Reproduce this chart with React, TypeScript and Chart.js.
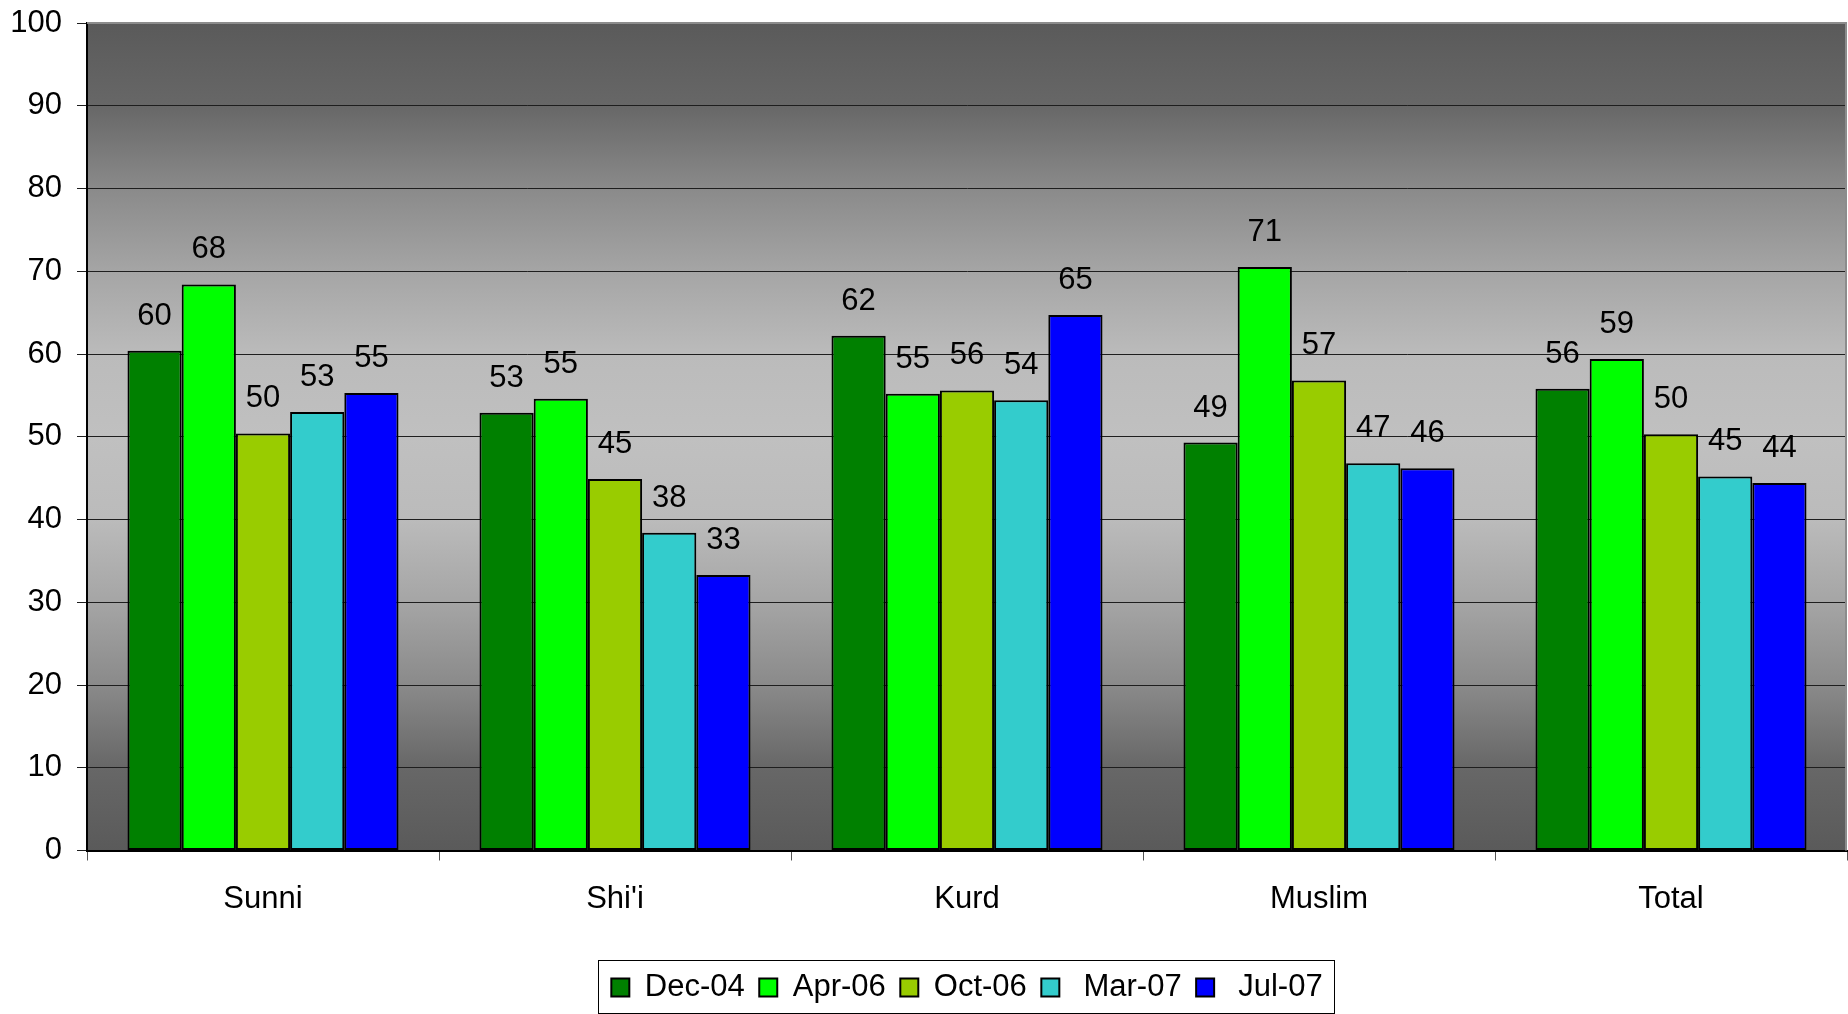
import React, { useEffect, useRef } from 'react';
import { Chart, registerables } from 'chart.js';

Chart.register(...registerables);

const categories = ['Sunni', "Shi'i", 'Kurd', 'Muslim', 'Total'];
const seriesLabels = ['Dec-04', 'Apr-06', 'Oct-06', ' Mar-07', ' Jul-07'];
const dec04 = [60.4, 52.9, 62.2, 49.3, 55.8];
const apr06 = [68.4, 54.6, 55.2, 70.5, 59.4];
const oct06 = [50.4, 44.9, 55.6, 56.8, 50.3];
const mar07 = [53.0, 38.4, 54.4, 46.8, 45.2];
const jul07 = [55.3, 33.3, 64.7, 46.2, 44.4];
const seriesColors = ['#008000', '#00FF00', '#99CC00', '#33CCCC', '#0000FF'];
const yMin = 0;
const yMax = 100;
const yStep = 10;

const FONT = "'Liberation Sans', Arial, Helvetica, sans-serif";
const FONT_SIZE = 31;

const backgroundPlugin = {
  id: 'plotBackground',
  beforeDraw(chart: any) {
    const { ctx, chartArea } = chart;
    if (!chartArea) return;
    const { left, top, right, bottom } = chartArea;
    ctx.save();
    ctx.fillStyle = '#ffffff';
    ctx.fillRect(0, 0, chart.width, chart.height);
    const g = ctx.createLinearGradient(0, top, 0, bottom);
    const stops: [number, string][] = [
      [0, '#5a5a5a'],
      [0.1, '#676767'],
      [0.2, '#8a8a8a'],
      [0.3, '#a5a5a5'],
      [0.4, '#bbbbbb'],
      [0.5, '#c0c0c0'],
      [0.6, '#bbbbbb'],
      [0.7, '#a5a5a5'],
      [0.8, '#8a8a8a'],
      [0.9, '#676767'],
      [1, '#5a5a5a'],
    ];
    stops.forEach(([o, c]) => g.addColorStop(o, c));
    ctx.fillStyle = g;
    ctx.fillRect(left, top, right - left, bottom - top);
    ctx.restore();
  },
  beforeDatasetsDraw(chart: any) {
    const { ctx, chartArea } = chart;
    const { left, top, right, bottom } = chartArea;
    ctx.save();
    ctx.strokeStyle = '#8c8c8c';
    ctx.lineWidth = 2;
    ctx.beginPath();
    ctx.moveTo(left, top);
    ctx.lineTo(right - 1, top);
    ctx.lineTo(right - 1, bottom);
    ctx.stroke();
    ctx.restore();
  },
};

const dataLabelPlugin = {
  id: 'dataLabels',
  afterDatasetsDraw(chart: any) {
    const ctx = chart.ctx;
    ctx.save();
    ctx.font = `${FONT_SIZE}px ${FONT}`;
    ctx.fillStyle = '#000000';
    ctx.textAlign = 'center';
    ctx.textBaseline = 'alphabetic';
    chart.data.datasets.forEach((ds: any, i: number) => {
      const meta = chart.getDatasetMeta(i);
      meta.data.forEach((bar: any, j: number) => {
        const v = ds.data[j] as number;
        ctx.fillText(String(Math.round(v)), bar.x, bar.y - 26);
      });
    });
    ctx.restore();
  },
};

const legendBorderPlugin = {
  id: 'legendBorder',
  afterDraw(chart: any) {
    const legend = chart.legend;
    if (!legend || !legend.legendHitBoxes || !legend.legendHitBoxes.length) return;
    const boxes = legend.legendHitBoxes;
    let minX = Infinity;
    let maxX = -Infinity;
    boxes.forEach((b: any) => {
      minX = Math.min(minX, b.left);
      maxX = Math.max(maxX, b.left + b.width);
    });
    const cy = boxes[0].top + boxes[0].height / 2;
    const ctx = chart.ctx;
    ctx.save();
    ctx.strokeStyle = '#000000';
    ctx.lineWidth = 1;
    ctx.strokeRect(Math.round(minX - 13) + 0.5, Math.round(cy - 28) + 0.5, Math.round(maxX - minX + 25), 53);
    ctx.restore();
  },
};

export default function App() {
  const canvasRef = useRef<HTMLCanvasElement | null>(null);

  useEffect(() => {
    document.body.style.margin = '0';
    document.body.style.overflow = 'hidden';
    const canvas = canvasRef.current;
    if (!canvas) return;
    const seriesData = [dec04, apr06, oct06, mar07, jul07];
    const chart = new Chart(canvas, {
      type: 'bar',
      data: {
        labels: categories,
        datasets: seriesLabels.map((label, i) => ({
          label,
          data: seriesData[i],
          backgroundColor: seriesColors[i],
          borderColor: '#000000',
          borderWidth: 2,
          borderSkipped: false,
          barPercentage: 1,
          categoryPercentage: 0.77,
        })),
      },
      options: {
        responsive: false,
        animation: false,
        devicePixelRatio: 1,
        layout: { padding: { left: 10, right: 1, top: 23, bottom: 1 } },
        font: { family: FONT, size: FONT_SIZE },
        plugins: {
          tooltip: { enabled: false },
          legend: {
            position: 'bottom',
            fullSize: false,
            labels: {
              font: { family: FONT, size: FONT_SIZE },
              color: '#000000',
              boxWidth: 18,
              boxHeight: 18,
              padding: 14.5,
            },
          },
        },
        scales: {
          x: {
            grid: {
              display: true,
              drawOnChartArea: false,
              drawTicks: true,
              tickLength: 10,
              color: '#555555',
              offset: true,
            },
            border: { display: true, color: '#000000', width: 2 },
            ticks: {
              font: { family: FONT, size: FONT_SIZE },
              color: '#000000',
              padding: 20,
              maxRotation: 0,
            },
            afterFit: (scale: any) => {
              scale.height = 107;
              scale.paddingLeft = 0;
              scale.paddingRight = 0;
            },
          },
          y: {
            min: yMin,
            max: yMax,
            grid: {
              color: '#1e1e1e',
              lineWidth: 1,
              drawTicks: true,
              tickLength: 10,
            },
            border: { display: true, color: '#000000', width: 2 },
            ticks: {
              stepSize: yStep,
              font: { family: FONT, size: FONT_SIZE },
              color: '#000000',
              padding: 15,
            },
            afterFit: (scale: any) => {
              scale.width = 77;
              scale.paddingTop = 0;
              scale.paddingBottom = 0;
            },
          },
        },
      },
      plugins: [backgroundPlugin, dataLabelPlugin, legendBorderPlugin],
    } as any);
    return () => chart.destroy();
  }, []);

  return (
    <div style={{ width: 1848, height: 1014, position: 'relative' }}>
      <canvas ref={canvasRef} width={1848} height={1014} style={{ display: 'block' }} />
    </div>
  );
}
